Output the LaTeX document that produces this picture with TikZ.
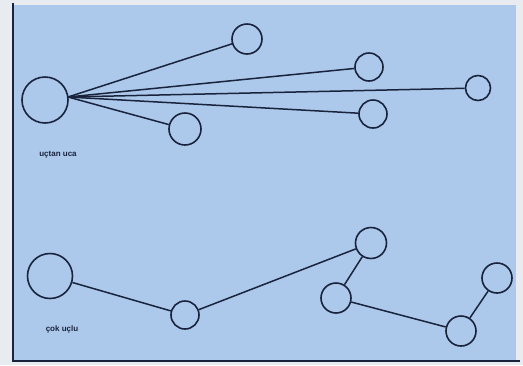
\documentclass[tikz,border=0pt]{standalone}
\usepackage{fontspec}
\setmainfont{Liberation Sans}
\definecolor{panel}{RGB}{172,201,236}
\definecolor{ink}{RGB}{25,35,60}
\definecolor{paper}{RGB}{232,236,240}
\tikzset{
  nd/.style={circle,draw=ink,line width=1.6pt,inner sep=0pt,minimum size=#1},
  lk/.style={draw=ink,line width=1.5pt},
  lbl/.style={font=\bfseries\fontsize{8}{9}\selectfont,text=ink}
}
\begin{document}
\begin{tikzpicture}[x=1pt,y=-1pt]
\useasboundingbox (0,0) rectangle (523,365);
\fill[paper] (0,0) rectangle (523,365);
\fill[panel] (13,5) rectangle (516,360);
\draw[ink,line width=1.5pt] (13,3) -- (13,362);
\draw[ink,line width=1.2pt] (13,361) -- (520,361);
% top group
\node[nd=46pt] (h) at (45,100) {};
\node[nd=30pt] (a) at (247,39) {};
\node[nd=28pt] (b) at (369,67) {};
\node[nd=25pt] (c) at (478,88) {};
\node[nd=28pt] (d) at (373,114) {};
\node[nd=32pt] (e) at (185,129) {};
\coordinate (hp) at (68,97);
\draw[lk] (hp) -- (a);
\draw[lk] (hp) -- (b);
\draw[lk] (hp) -- (c);
\draw[lk] (hp) -- (d);
\draw[lk] (hp) -- (e);
\node[lbl] (l1) at (58,155) {uçtan uca};
% bottom group
\node[nd=45pt] (p) at (50,276) {};
\node[nd=28pt] (f) at (185,315) {};
\node[nd=31pt] (g) at (371,243) {};
\node[nd=30pt] (k) at (336,298) {};
\node[nd=30pt] (i) at (461,331) {};
\node[nd=30pt] (j) at (497,278) {};
\draw[lk] (p) -- (f);
\draw[lk] (f) -- (g);
\draw[lk] (g) -- (k);
\draw[lk] (k) -- (i);
\draw[lk] (i) -- (j);
\node[lbl] (l2) at (62,329) {çok uçlu};
\end{tikzpicture}
\end{document}
